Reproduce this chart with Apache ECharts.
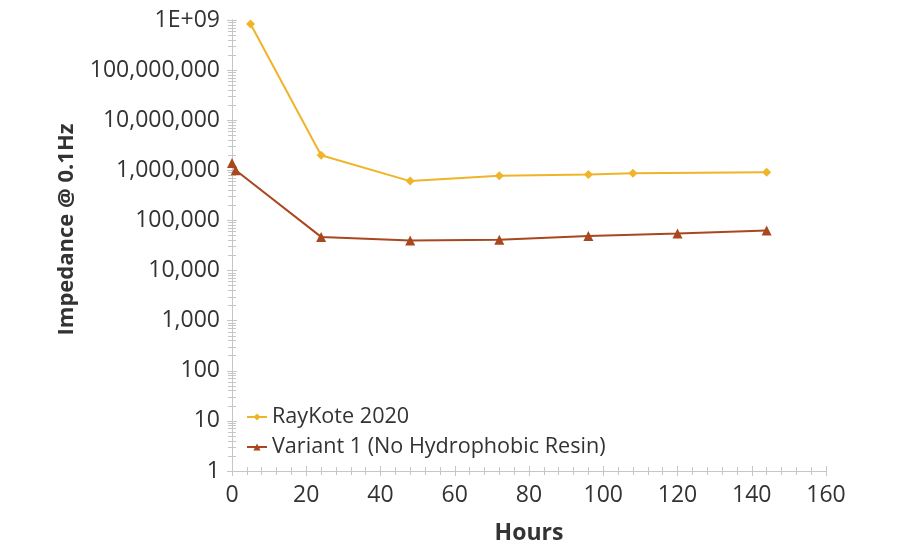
<!DOCTYPE html>
<html>
<head>
<meta charset="utf-8">
<script src="https://cdn.jsdelivr.net/npm/echarts@6/dist/echarts.min.js"></script>
<style>html,body{margin:0;padding:0;background:#fff}#c{width:900px;height:550px}</style>
</head>
<body>
<div id="c"></div>
<script>
var seriesNames = ['RayKote 2020', 'Variant 1 (No Hydrophobic Resin)'];
var rayKoteHours = [5, 24, 48, 72, 96, 108, 144];
var rayKoteValues = [830000000, 2000000, 610000, 780000, 830000, 870000, 920000];
var variantHours = [0, 1, 24, 48, 72, 96, 120, 144];
var variantValues = [1400000, 1000000, 47000, 40000, 41000, 49000, 55000, 63000];
var xTicks = [0, 20, 40, 60, 80, 100, 120, 140, 160];

function pairs(xs, ys) { return xs.map(function (x, i) { return [x, ys[i]]; }); }
function yFmt(v) {
  if (v >= 1e9) return '1E+09';
  return Math.round(v).toLocaleString('en-US');
}
var font = '"Open Sans", "Noto Sans", sans-serif';
var axisGray = '#c6c6c6';

var chart = echarts.init(document.getElementById('c'));
var baseX = {
  type: 'value', min: xTicks[0], max: xTicks[xTicks.length - 1], interval: 20,
  position: 'bottom',
  axisLine: { show: true, lineStyle: { color: axisGray, width: 1 } },
  splitLine: { show: false }
};
var baseY = {
  type: 'log', logBase: 10, min: 1, max: 1e9, splitNumber: 9,
  position: 'left',
  axisLine: { show: true, lineStyle: { color: axisGray, width: 1 } },
  splitLine: { show: false }
};
chart.setOption({
  animation: false,
  backgroundColor: '#ffffff',
  grid: { left: 232, right: 74, top: 20, bottom: 79 },
  legend: {
    orient: 'vertical', left: 241, top: 401, itemGap: 8,
    itemWidth: 20, itemHeight: 9,
    textStyle: { fontFamily: font, fontSize: 21.6, color: '#333333' },
    data: seriesNames
  },
  xAxis: [
    Object.assign({}, baseX, {
      name: 'Hours', nameLocation: 'middle', nameGap: 51,
      nameTextStyle: { fontFamily: font, fontSize: 23, fontWeight: 'bold', color: '#333333' },
      axisTick: { show: true, length: 5, lineStyle: { color: axisGray } },
      minorTick: { show: true, splitNumber: 5, length: 4, lineStyle: { color: axisGray } },
      axisLabel: { fontFamily: font, fontSize: 23, color: '#333333', margin: 13 }
    }),
    Object.assign({}, baseX, {
      axisTick: { show: true, inside: true, length: 5, lineStyle: { color: axisGray } },
      minorTick: { show: true, splitNumber: 5, length: 4, lineStyle: { color: axisGray } },
      axisLabel: { show: false }
    })
  ],
  yAxis: [
    Object.assign({}, baseY, {
      name: 'Impedance @ 0.1Hz', nameLocation: 'middle', nameGap: 154, nameRotate: 90,
      nameTextStyle: { fontFamily: font, fontSize: 22, fontWeight: 'bold', color: '#333333', padding: [0, 0, 0, 32] },
      axisTick: { show: true, length: 5, lineStyle: { color: axisGray } },
      minorTick: { show: true, splitNumber: 9, length: 4, lineStyle: { color: axisGray } },
      axisLabel: { fontFamily: font, fontSize: 23, color: '#333333', margin: 12, formatter: yFmt }
    }),
    Object.assign({}, baseY, {
      axisTick: { show: true, inside: true, length: 5, lineStyle: { color: axisGray } },
      minorTick: { show: true, splitNumber: 9, length: 4, lineStyle: { color: axisGray } },
      axisLabel: { show: false }
    })
  ],
  series: [
    {
      name: seriesNames[0], type: 'line', data: pairs(rayKoteHours, rayKoteValues),
      symbol: 'diamond', symbolSize: 9, color: '#EFB428',
      lineStyle: { width: 2, color: '#EFB428' }, itemStyle: { color: '#EFB428' }
    },
    {
      name: seriesNames[1], type: 'line', data: pairs(variantHours, variantValues),
      symbol: 'triangle', symbolSize: 10, color: '#A9471F',
      lineStyle: { width: 2, color: '#A9471F' }, itemStyle: { color: '#A9471F' }
    }
  ]
});
</script>
</body>
</html>
